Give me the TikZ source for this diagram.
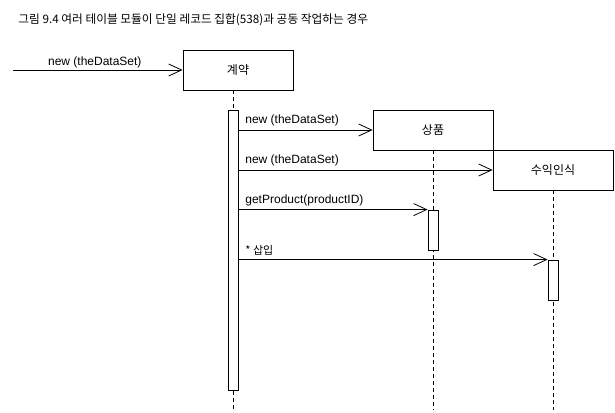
\documentclass[tikz,border=0pt]{standalone}
\usepackage{fontspec}
\setmainfont{Liberation Sans}
\newfontfamily\kr{Noto Sans CJK KR}
\usetikzlibrary{arrows.meta}
\begin{document}
\begin{tikzpicture}[x=1pt,y=-1pt,line width=0.8pt,
	font=\fontsize{12}{14}\selectfont,
	obj/.style={draw,minimum width=120pt,minimum height=40pt,inner sep=0,font=\kr\fontsize{12}{14}\selectfont},
	act/.style={draw,fill=white,minimum width=10pt,inner sep=0},
	msg/.style={-{Straight Barb[length=13pt,width=12pt,line width=0.8pt]}},
	life/.style={dash pattern=on 4pt off 3pt,line width=0.7pt},
	lbl/.style={anchor=south west,inner sep=0,yshift=4pt}]
\useasboundingbox (0,0) rectangle (615,412);
\node[anchor=west,inner sep=0,font=\kr\fontsize{11.7}{13}\selectfont] (title) at (18,20) {그림 9.4 여러 테이블 모듈이 단일 레코드 집합(538)과 공동 작업하는 경우};
% objects
\node[obj,minimum width=110pt] (contract) at (238,70) {계약};
\node[obj] (product) at (433,130) {상품};
\node[obj] (revenue) at (553,170) {수익인식};
% lifelines
\coordinate (cTop) at (233,90);
\coordinate (cEnd) at (233,410);
\coordinate (pEnd) at (433,410);
\coordinate (rEnd) at (553,410);
\draw[life] (cTop) -- (cEnd);
\draw[life] (product.south) -- (pEnd);
\draw[life] (revenue.south) -- (rEnd);
% activations
\node[act,minimum height=280pt] (cAct) at (233,250) {};
\node[act,minimum height=40pt] (pAct) at (433,230) {};
\node[act,minimum height=40pt] (rAct) at (553,280) {};
% messages
\coordinate (start) at (13,70);
\draw[msg] (start) -- node[above=2pt,inner sep=0,xshift=-3pt] (m0) {new (theDataSet)} (contract.west);
\draw[msg] (cAct.east |- product.west) -- (product.west)
	node[lbl] (m1) at (245,130) {new (theDataSet)};
\draw[msg] (cAct.east |- revenue.west) -- (revenue.west)
	node[lbl] (m2) at (245,170) {new (theDataSet)};
\draw[msg] (cAct.east |- pAct.north) -- (pAct.north west)
	node[lbl] (m3) at (245,210) {getProduct(productID)};
\draw[msg] (cAct.east |- rAct.north) -- (rAct.north west)
	node[lbl,font=\kr\fontsize{11}{13}\selectfont] (m4) at (245,260) {* 삽입};
\end{tikzpicture}
\end{document}
